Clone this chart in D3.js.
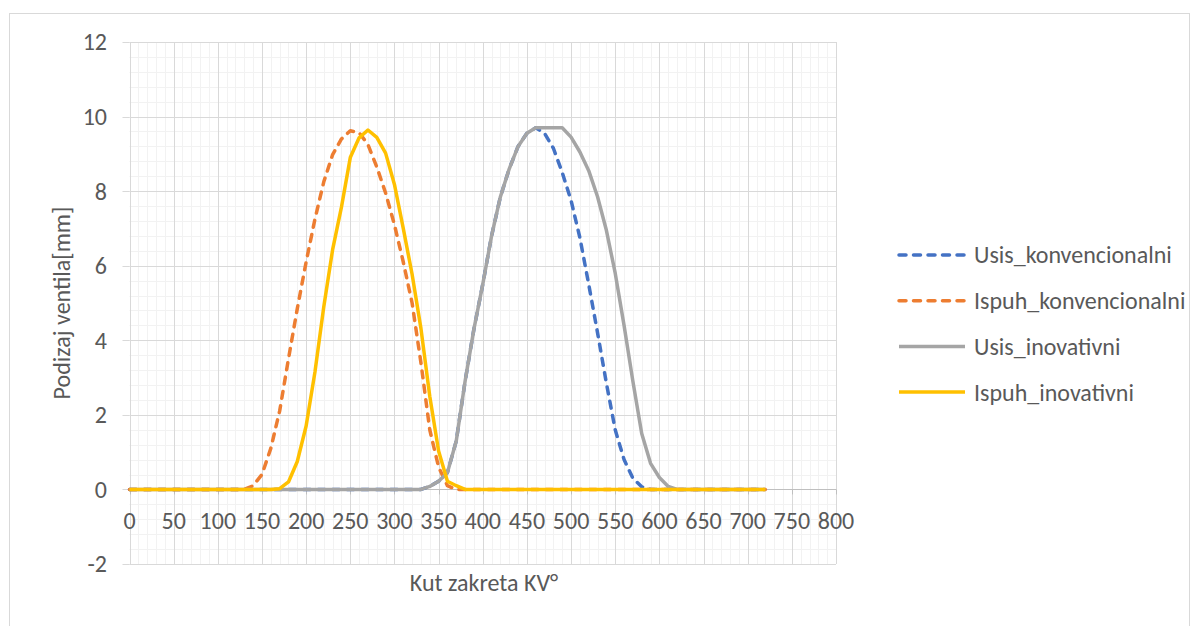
<!DOCTYPE html>
<html>
<head>
<meta charset="utf-8">
<script src="https://cdn.jsdelivr.net/npm/d3@7"></script>
<style>
  body { margin: 0; background: #fff; }
  svg text { font-family: Carlito, Lato, "Open Sans", sans-serif; fill: #595959; }
</style>
</head>
<body>
<div id="chart"></div>
<script>
// lift curves (angle in deg, lift in mm)
var usisKonvAngle = [0, 330, 340, 350, 360, 370, 380, 390, 400, 410, 420, 430, 440, 450, 460, 470, 480, 490, 500, 510, 520, 530, 540, 550, 560, 570, 580, 590, 720]
var usisKonvLift  = [0, 0, 0.08, 0.22, 0.45, 1.3, 2.9, 4.3, 5.5, 6.8, 7.85, 8.6, 9.2, 9.55, 9.7, 9.55, 9.15, 8.5, 7.75, 6.75, 5.5, 4.2, 2.85, 1.6, 0.8, 0.3, 0.07, 0, 0]

var ispuhKonvAngle = [0, 130, 140, 150, 160, 170, 180, 190, 200, 210, 220, 230, 240, 250, 260, 270, 280, 290, 300, 310, 320, 330, 340, 350, 360, 370, 720]
var ispuhKonvLift  = [0, 0, 0.1, 0.4, 1.1, 2.1, 3.5, 4.85, 6.1, 7.25, 8.25, 8.98, 9.4, 9.62, 9.57, 9.25, 8.65, 7.95, 7.1, 6.1, 5.0, 3.4, 1.6, 0.6, 0.1, 0, 0]

var usisInovAngle = [0, 330, 340, 350, 360, 370, 380, 390, 400, 410, 420, 430, 440, 450, 460, 470, 480, 490, 500, 510, 520, 530, 540, 550, 560, 570, 580, 590, 600, 610, 620, 720]
var usisInovLift  = [0, 0, 0.08, 0.22, 0.45, 1.3, 2.9, 4.3, 5.5, 6.8, 7.85, 8.6, 9.2, 9.55, 9.7, 9.7, 9.7, 9.7, 9.45, 9.05, 8.55, 7.85, 6.95, 5.8, 4.4, 2.9, 1.5, 0.7, 0.32, 0.08, 0, 0]

var ispuhInovAngle = [0, 160, 170, 180, 190, 200, 210, 220, 230, 240, 250, 260, 270, 280, 290, 300, 310, 320, 330, 340, 350, 360, 370, 380, 720]
var ispuhInovLift  = [0, 0, 0.02, 0.2, 0.75, 1.7, 3.15, 4.9, 6.43, 7.57, 8.9, 9.43, 9.64, 9.44, 9.02, 8.18, 7.0, 5.77, 4.32, 2.5, 1.03, 0.22, 0.1, 0, 0]

var seriesNames = ["Usis_konvencionalni", "Ispuh_konvencionalni", "Usis_inovativni", "Ispuh_inovativni"]
var seriesColors = ["#4472C4", "#ED7D31", "#A5A5A5", "#FFC000"]
var seriesDashed = [true, true, false, false]

var xTicks = [0, 50, 100, 150, 200, 250, 300, 350, 400, 450, 500, 550, 600, 650, 700, 750, 800]
var yTicks = [-2, 0, 2, 4, 6, 8, 10, 12]

var series = [
  {angle: usisKonvAngle, lift: usisKonvLift},
  {angle: ispuhKonvAngle, lift: ispuhKonvLift},
  {angle: usisInovAngle, lift: usisInovLift},
  {angle: ispuhInovAngle, lift: ispuhInovLift}
]

var width = 1200
var height = 626
var fontSize = "24px"

var svg = d3.select("#chart")
  .append("svg")
    .attr("width", width)
    .attr("height", height)

// chart area border
svg.append("rect")
  .attr("x", 9.5).attr("y", 13.5)
  .attr("width", 1180).attr("height", 640)
  .attr("fill", "none")
  .attr("stroke", "#D9D9D9")
  .attr("stroke-width", 1)

var x = d3.scaleLinear().domain([0, 800]).range([129.5, 836])
var y = d3.scaleLinear().domain([-2, 12]).range([564, 42])

var g = svg.append("g")

// minor grid
g.selectAll(".minorX")
  .data(d3.range(0, 801, 10))
  .enter().append("line")
    .attr("x1", function(d){ return Math.round(x(d)) + 0.5 })
    .attr("x2", function(d){ return Math.round(x(d)) + 0.5 })
    .attr("y1", y(12)).attr("y2", y(-2))
    .attr("stroke", "#F2F2F2")
g.selectAll(".minorY")
  .data(d3.range(-2, 12.01, 0.4))
  .enter().append("line")
    .attr("y1", function(d){ return Math.round(y(d)) + 0.5 })
    .attr("y2", function(d){ return Math.round(y(d)) + 0.5 })
    .attr("x1", x(0)).attr("x2", x(800))
    .attr("stroke", "#F2F2F2")

// major grid
g.selectAll(".majorX")
  .data(xTicks)
  .enter().append("line")
    .attr("x1", function(d){ return Math.round(x(d)) + 0.5 })
    .attr("x2", function(d){ return Math.round(x(d)) + 0.5 })
    .attr("y1", y(12)).attr("y2", y(-2))
    .attr("stroke", "#D9D9D9")
g.selectAll(".majorY")
  .data(yTicks)
  .enter().append("line")
    .attr("y1", function(d){ return Math.round(y(d)) + 0.5 })
    .attr("y2", function(d){ return Math.round(y(d)) + 0.5 })
    .attr("x1", x(0)).attr("x2", x(800))
    .attr("stroke", "#D9D9D9")

// y axis ticks (outside)
g.selectAll(".yTick")
  .data(yTicks)
  .enter().append("line")
    .attr("y1", function(d){ return Math.round(y(d)) + 0.5 })
    .attr("y2", function(d){ return Math.round(y(d)) + 0.5 })
    .attr("x1", x(0) - 7).attr("x2", x(0))
    .attr("stroke", "#D9D9D9")

// x axis line on zero + ticks
g.append("line")
  .attr("x1", x(0)).attr("x2", x(800))
  .attr("y1", Math.round(y(0)) + 0.5).attr("y2", Math.round(y(0)) + 0.5)
  .attr("stroke", "#BFBFBF")
g.selectAll(".xTick")
  .data(xTicks)
  .enter().append("line")
    .attr("x1", function(d){ return Math.round(x(d)) + 0.5 })
    .attr("x2", function(d){ return Math.round(x(d)) + 0.5 })
    .attr("y1", y(0)).attr("y2", y(0) + 5)
    .attr("stroke", "#BFBFBF")

// tick labels
g.selectAll(".yLabel")
  .data(yTicks)
  .enter().append("text")
    .attr("x", 107)
    .attr("y", function(d){ return y(d) })
    .attr("dy", "0.35em")
    .attr("text-anchor", "end")
    .style("font-size", fontSize)
    .text(function(d){ return d })
g.selectAll(".xLabel")
  .data(xTicks)
  .enter().append("text")
    .attr("x", function(d){ return x(d) })
    .attr("y", 529)
    .attr("text-anchor", "middle")
    .style("font-size", fontSize)
    .text(function(d){ return d })

// axis titles
svg.append("text")
  .attr("transform", "translate(70,303) rotate(-90)")
  .attr("text-anchor", "middle")
  .style("font-size", fontSize)
  .text("Podizaj ventila[mm]")
svg.append("text")
  .attr("x", 484).attr("y", 591)
  .attr("text-anchor", "middle")
  .style("font-size", fontSize)
  .text("Kut zakreta KV°")

// the lines
var line = d3.line()
  .x(function(d){ return x(d[0]) })
  .y(function(d){ return y(d[1]) })

series.forEach(function(s, i){
  var pts = s.angle.map(function(a, j){ return [a, s.lift[j]] })
  g.append("path")
    .datum(pts)
    .attr("d", line)
    .attr("fill", "none")
    .attr("stroke", seriesColors[i])
    .attr("stroke-width", 3.5)
    .attr("stroke-linejoin", "round")
    .attr("stroke-linecap", seriesDashed[i] ? "round" : "butt")
    .attr("stroke-dasharray", seriesDashed[i] ? "7,7.5" : null)
})

// legend
var legend = svg.selectAll(".legend")
  .data(seriesNames)
  .enter().append("g")
    .attr("transform", function(d, i){ return "translate(897," + (255 + i * 45.7) + ")" })
legend.append("line")
  .attr("x1", 2).attr("x2", 68)
  .attr("stroke", function(d, i){ return seriesColors[i] })
  .attr("stroke-width", 3.5)
  .attr("stroke-linecap", function(d, i){ return seriesDashed[i] ? "round" : "butt" })
  .attr("stroke-dasharray", function(d, i){ return seriesDashed[i] ? "7,7.5" : null })
legend.append("text")
  .attr("x", 77)
  .attr("dy", "0.35em")
  .style("font-size", fontSize)
  .text(function(d){ return d })
</script>
</body>
</html>
